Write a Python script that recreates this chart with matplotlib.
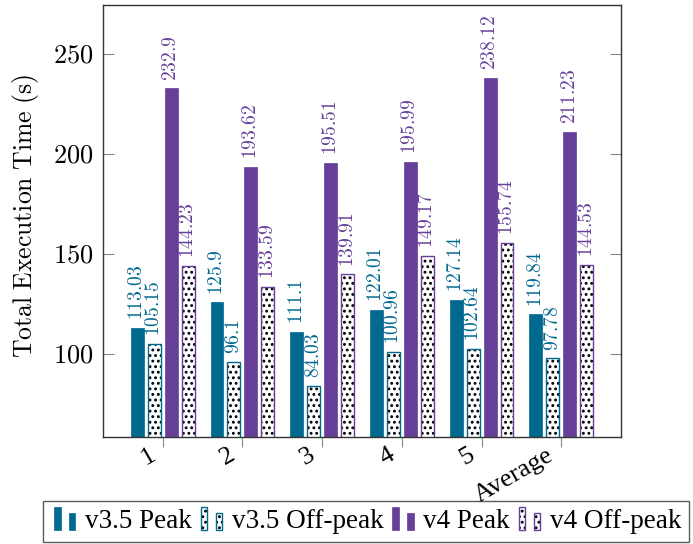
import numpy as np
import matplotlib
matplotlib.use("Agg")
import matplotlib.pyplot as plt
import matplotlib.transforms as mtransforms
from matplotlib.patches import Rectangle, Patch
from matplotlib.legend_handler import HandlerBase

plt.rcParams['font.family'] = ['Liberation Serif', 'DejaVu Serif']
plt.rcParams['mathtext.fontset'] = 'cm'
plt.rcParams['hatch.linewidth'] = 1.3

categories = ['1', '2', '3', '4', '5', 'Average']
v35_peak = [113.03, 125.9, 111.1, 122.01, 127.14, 119.84]
v35_off = [105.15, 96.1, 84.03, 100.96, 102.64, 97.78]
v4_peak = [232.9, 193.62, 195.51, 195.99, 238.12, 211.23]
v4_off = [144.23, 133.59, 139.91, 149.17, 155.74, 144.53]
series_names = ['v3.5 Peak', 'v3.5 Off-peak', 'v4 Peak', 'v4 Off-peak']
yticks = [100, 150, 200, 250]

TEAL = '#00698F'
PURPLE = '#663F99'

fig = plt.figure(figsize=(6.93, 5.44), dpi=100)
ax = fig.add_axes([103 / 693, 1 - 437 / 544, (621 - 103) / 693, (437 - 5) / 544])

x = np.arange(1, len(categories) + 1)
step = 0.213
bw = 0.163
series = [v35_peak, v35_off, v4_peak, v4_off]
colors = [TEAL, TEAL, PURPLE, PURPLE]
hatched = [False, True, False, True]

for i, (vals, col, h) in enumerate(zip(series, colors, hatched)):
    pos = x + (i - 1.5) * step
    if h:
        ax.bar(pos, vals, width=bw, color='white', edgecolor='black', linewidth=0, hatch='...', zorder=2)
        ax.bar(pos, vals, width=bw, fill=False, edgecolor=col, linewidth=1.0, zorder=3)
    else:
        ax.bar(pos, vals, width=bw, color=col, edgecolor=col, linewidth=0.5, zorder=2)
    for p, v in zip(pos, vals):
        ax.annotate('$' + '{:g}'.format(v) + '$', (p, v), xytext=(0, 5.5), textcoords='offset points',
                    rotation=90, ha='center', va='bottom', color=col, fontsize=14)

ax.set_xlim(0.25, 6.75)
ax.set_ylim(58.5, 274.5)
ax.set_xticks(x)
ax.set_yticks(yticks)
ax.set_yticklabels(['$' + str(t) + '$' for t in yticks], fontsize=19)
ax.tick_params(axis='y', direction='in', length=8, color='#888888', left=True, right=True, width=0.8, pad=7)
ax.tick_params(axis='x', direction='out', length=7, color='#888888', bottom=True, top=False, width=0.8)
ax.set_xticklabels(categories, rotation=30, ha='right', va='center', rotation_mode='anchor', fontsize=19)
off = mtransforms.ScaledTranslation(-9 / 100, -2 / 100, fig.dpi_scale_trans)
for lab in ax.get_xticklabels():
    lab.set_transform(lab.get_transform() + off)
ax.set_ylabel(r'$\mathrm{Total\ Execution\ Time\ (s)}$', fontsize=18.5)
ax.yaxis.set_label_coords(-0.12, 0.512)
for s in ax.spines.values():
    s.set_color('#333333')
    s.set_linewidth(1.0)


class BarHandler(HandlerBase):
    def create_artists(self, legend, orig_handle, xdescent, ydescent, width, height, fontsize, trans):
        fc = orig_handle.get_facecolor()
        ec = orig_handle.get_edgecolor()
        h = orig_handle.get_hatch()
        arts = []
        bwid = width * 0.22
        specs = [(width * 0.1, height * 1.2), (width * 0.6, height * 0.9)]
        for (x0, hh) in specs:
            y0 = -ydescent - height * 0.1
            if h:
                r1 = Rectangle((x0 - xdescent, y0), bwid, hh, facecolor='white', edgecolor='black',
                               linewidth=0, hatch='...', transform=trans)
                r2 = Rectangle((x0 - xdescent, y0), bwid, hh, fill=False, edgecolor=ec,
                               linewidth=1.0, transform=trans)
                arts += [r1, r2]
            else:
                r = Rectangle((x0 - xdescent, y0), bwid, hh, facecolor=fc, edgecolor=fc,
                              linewidth=0.5, transform=trans)
                arts.append(r)
        return arts


proxies = [Patch(facecolor=TEAL, edgecolor=TEAL),
           Patch(facecolor='white', edgecolor=TEAL, hatch='...'),
           Patch(facecolor=PURPLE, edgecolor=PURPLE),
           Patch(facecolor='white', edgecolor=PURPLE, hatch='...')]
leg = fig.legend(proxies, series_names, loc='lower center', bbox_to_anchor=(366 / 693, 2 / 544),
                 ncol=4, fontsize=19.5, frameon=True, fancybox=False, edgecolor='#333333',
                 handler_map={Patch: BarHandler()}, handlelength=1.1, handletextpad=0.15,
                 columnspacing=0.22, borderpad=0.3, borderaxespad=0)
leg.get_frame().set_linewidth(1.0)

fig.savefig('out.png', dpi=100)
